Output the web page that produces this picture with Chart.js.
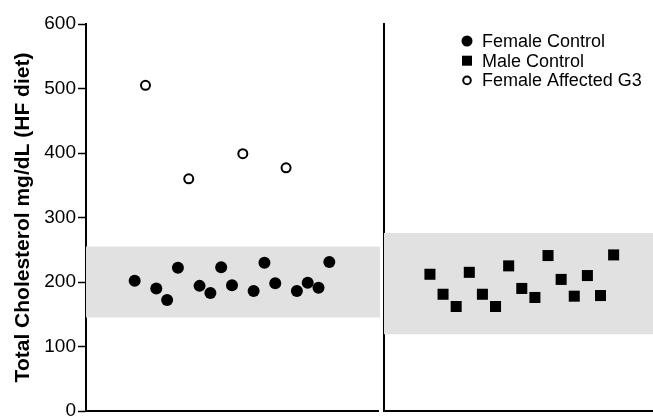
<!DOCTYPE html>
<html>
<head>
<meta charset="utf-8">
<script src="https://cdn.jsdelivr.net/npm/chart.js@4.4.0/dist/chart.umd.min.js"></script>
<style>
html, body { margin: 0; padding: 0; background: #fff; overflow: hidden; }
#wrap { position: relative; width: 653px; height: 416px; overflow: hidden; }
#left { position: absolute; left: 0; top: 0; }
#right { position: absolute; left: 383px; top: 0; }
</style>
</head>
<body>
<div id="wrap">
  <canvas id="left" width="384" height="432"></canvas>
  <canvas id="right" width="270" height="432"></canvas>
</div>
<script>
// subject order in each panel (left panel mixes the two female groups)
var femaleControlSlots = [0, 2, 3, 4, 6, 7, 8, 9, 11, 12, 13, 15, 16, 17, 18];
var femaleControl = [202, 190, 172, 222, 194, 183, 223, 195, 186, 230, 198, 186, 199, 191, 231];
var femaleAffectedSlots = [1, 5, 10, 14];
var femaleAffected = [505, 360, 399, 377];
var maleControlSlots = [0, 1, 2, 3, 4, 5, 6, 7, 8, 9, 10, 11, 12, 13, 14];
var maleControl = [212, 181, 162, 215, 181, 162, 225, 190, 176, 241, 204, 178, 210, 179, 242];
// normal ranges (grey bands)
var femaleRange = [145, 255];
var maleRange = [119, 276];
var yTicks = [0, 100, 200, 300, 400, 500, 600];
var legendNames = ["Female Control", "Male Control", "Female Affected G3"];

var font = '"Liberation Sans", Arial, Helvetica, sans-serif';

function pts(slots, vals) {
  return slots.map(function (s, i) { return { x: s, y: vals[i] }; });
}

var bandPlugin = {
  id: 'band',
  beforeDatasetsDraw: function (chart, args, opts) {
    var a = chart.chartArea, y = chart.scales.y, ctx = chart.ctx;
    var top = y.getPixelForValue(opts.range[1]);
    var bot = y.getPixelForValue(opts.range[0]);
    ctx.save();
    ctx.fillStyle = '#e1e1e1';
    ctx.fillRect(a.left, top, a.right - a.left + (opts.extra || 0), bot - top);
    ctx.restore();
  }
};

var legendPlugin = {
  id: 'insideLegend',
  afterDraw: function (chart) {
    if (!chart.options.plugins.insideLegend) return;
    var ctx = chart.ctx, a = chart.chartArea;
    ctx.save();
    ctx.font = '18px ' + font;
    ctx.textBaseline = 'middle';
    ctx.fillStyle = '#000';
    ctx.strokeStyle = '#000';
    legendNames.forEach(function (name, i) {
      var y = a.top + 17 + i * 19.7;
      var x = a.left + 83;
      ctx.beginPath();
      if (i === 0) {
        ctx.arc(x, y, 5.5, 0, Math.PI * 2);
        ctx.fill();
      } else if (i === 1) {
        ctx.fillRect(x - 5, y - 5, 10, 10);
      } else {
        ctx.lineWidth = 2;
        ctx.arc(x, y, 3.8, 0, Math.PI * 2);
        ctx.stroke();
      }
      ctx.fillText(name, a.left + 98, y + 1);
    });
    ctx.restore();
  }
};

var yBase = {
  min: 0, max: 600,
  afterBuildTicks: function (s) { s.ticks = yTicks.map(function (v) { return { value: v }; }); }
};

new Chart(document.getElementById('left'), {
  type: 'scatter',
  data: {
    datasets: [
      { label: legendNames[0], data: pts(femaleControlSlots, femaleControl),
        pointStyle: 'circle', pointRadius: 6, backgroundColor: '#000', borderWidth: 0 },
      { label: legendNames[2], data: pts(femaleAffectedSlots, femaleAffected),
        pointStyle: 'circle', pointRadius: 4.5, backgroundColor: '#fff', borderColor: '#000', borderWidth: 2 }
    ]
  },
  options: {
    responsive: false,
    animation: false,
    events: [],
    layout: { autoPadding: false, padding: { top: 24, right: 6, bottom: 21, left: 0 } },
    plugins: { legend: { display: false }, tooltip: { enabled: false }, band: { range: femaleRange, extra: 2 } },
    scales: {
      x: {
        min: -4.5, max: 22.5,
        ticks: { display: false },
        grid: { display: false, drawTicks: false },
        border: { display: true, color: '#000', width: 2 }
      },
      y: Object.assign({}, yBase, {
        afterFit: function (s) { s.width = 86; },
        ticks: { color: '#000', font: { family: font, size: 19 }, padding: 2 },
        grid: { drawOnChartArea: false, drawTicks: true, tickLength: 8, tickColor: '#000', tickWidth: 1.5 },
        border: { display: true, color: '#000', width: 2 },
        title: { display: true, text: 'Total Cholesterol mg/dL (HF diet)', color: '#000',
          font: { family: font, size: 21, weight: 'bold' }, padding: { top: 11, bottom: 0 } }
      })
    }
  },
  plugins: [bandPlugin]
});

new Chart(document.getElementById('right'), {
  type: 'scatter',
  data: {
    datasets: [
      { label: legendNames[1], data: pts(maleControlSlots, maleControl),
        pointStyle: 'rect', pointRadius: 7.8, backgroundColor: '#000', borderWidth: 0 }
    ]
  },
  options: {
    responsive: false,
    animation: false,
    events: [],
    layout: { autoPadding: false, padding: { top: 24, right: 0, bottom: 21, left: 0 } },
    plugins: { legend: { display: false }, tooltip: { enabled: false }, band: { range: maleRange }, insideLegend: true },
    scales: {
      x: {
        min: -3.5, max: 17,
        ticks: { display: false },
        grid: { display: false, drawTicks: false },
        border: { display: true, color: '#000', width: 2 }
      },
      y: Object.assign({}, yBase, {
        afterFit: function (s) { s.width = 1; },
        ticks: { display: false },
        grid: { display: false, drawTicks: false },
        border: { display: true, color: '#000', width: 2 }
      })
    }
  },
  plugins: [bandPlugin, legendPlugin]
});
</script>
</body>
</html>
